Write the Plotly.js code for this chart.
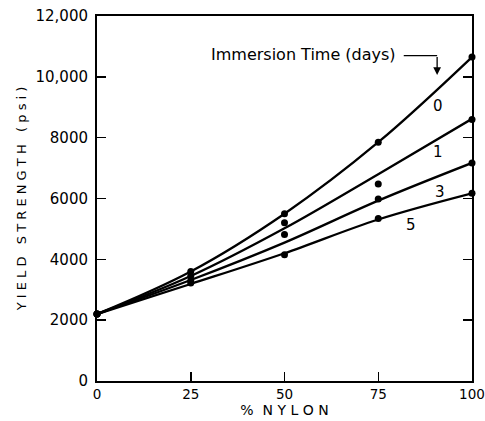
<!DOCTYPE html>
<html>
<head>
<meta charset="utf-8">
<script src="https://cdn.plot.ly/plotly-3.0.1.min.js"></script>
<style>html,body{margin:0;padding:0;background:#fff;}#chart{width:485px;height:421px;}</style>
</head>
<body>
<div id="chart"></div>
<script>
// % nylon
const nylon = [0, 25, 50, 75, 100];
// measured points (psi) per immersion time
const pts0 = [2200, 3600, 5500, 7850, 10650];
const pts1 = [2200, 3450, 5200, 6480, 8600];
const pts3 = [2200, 3300, 4820, 5980, 7170];
const pts5 = [2200, 3220, 4150, 5340, 6170];
// fitted curves (psi)
const fit0 = [2200, 3600, 5500, 7850, 10650];
const fit1 = [2200, 3450, 5020, 6800, 8620];
const fit3 = [2200, 3320, 4550, 5930, 7170];
const fit5 = [2200, 3190, 4200, 5310, 6170];
const dayLabels = ["0", "1", "3", "5"];
const yTickVals = [0, 2000, 4000, 6000, 8000, 10000, 12000];
const yTickText = ["0", "2000", "4000", "6000", "8000", "10,000", "12,000"];
const xTickVals = [0, 25, 50, 75, 100];

const FONT = "DejaVu Sans, Verdana, sans-serif";
const traces = [];
[fit0, fit1, fit3, fit5].forEach(f => {
  traces.push({x: nylon, y: f, mode: 'lines', line: {color: '#000', width: 2.3, shape: 'spline', smoothing: 1}, hoverinfo: 'skip'});
});
[pts0, pts1, pts3, pts5].forEach(p => {
  traces.push({x: nylon, y: p, mode: 'markers', marker: {color: '#000', size: 7}, cliponaxis: false});
});

const labelPos = [[90.8, 9050], [91.0, 7540], [91.4, 6230], [83.6, 5130]];
const annotations = dayLabels.map((t, i) => ({
  x: labelPos[i][0], y: labelPos[i][1], text: t, showarrow: false,
  font: {family: FONT, size: 15, color: '#000'}
}));
annotations.push({x: 80.3, y: 10720, xanchor: 'right', text: 'Immersion Time (days)', showarrow: false,
  font: {family: FONT, size: 16, color: '#000'}});
annotations.push({x: 90.7, y: 10060, ax: 90.7, ay: 10700, axref: 'x', ayref: 'y', xref: 'x', yref: 'y',
  text: '', showarrow: true, arrowhead: 2, arrowsize: 1.2, arrowwidth: 1.3, arrowcolor: '#000'});

const layout = {
  width: 485, height: 421,
  margin: {l: 97, r: 13, t: 16, b: 40},
  paper_bgcolor: '#fff', plot_bgcolor: '#fff',
  showlegend: false,
  font: {family: FONT, color: '#000'},
  xaxis: {
    range: [0, 100], tickvals: xTickVals, ticks: 'inside', ticklen: 9, tickwidth: 1.5, tickcolor: '#000',
    showline: true, linewidth: 2, linecolor: '#000', mirror: true, showgrid: false, zeroline: false,
    tickfont: {family: FONT, size: 13.5}, ticklabeloverflow: 'allow', fixedrange: true,
    title: {text: '%  N Y L O N', font: {family: FONT, size: 14}, standoff: 0}
  },
  yaxis: {
    range: [0, 12000], tickvals: yTickVals, ticktext: yTickText, ticks: 'inside', ticklen: 9, tickwidth: 1.5, tickcolor: '#000',
    showline: true, linewidth: 2, linecolor: '#000', mirror: 'ticks', showgrid: false, zeroline: false,
    tickfont: {family: FONT, size: 15}, ticklabelstandoff: 4, fixedrange: true,
    title: {text: 'Y I E L D   S T R E N G T H   ( p s i )', font: {family: FONT, size: 13}, standoff: 6}
  },
  shapes: [
    {type: 'line', xref: 'x', yref: 'y', x0: 81.8, x1: 90.7, y0: 10700, y1: 10700, line: {color: '#000', width: 1.3}}
  ],
  annotations: annotations
};
Plotly.newPlot('chart', traces, layout, {displayModeBar: false, staticPlot: true});
</script>
</body>
</html>
